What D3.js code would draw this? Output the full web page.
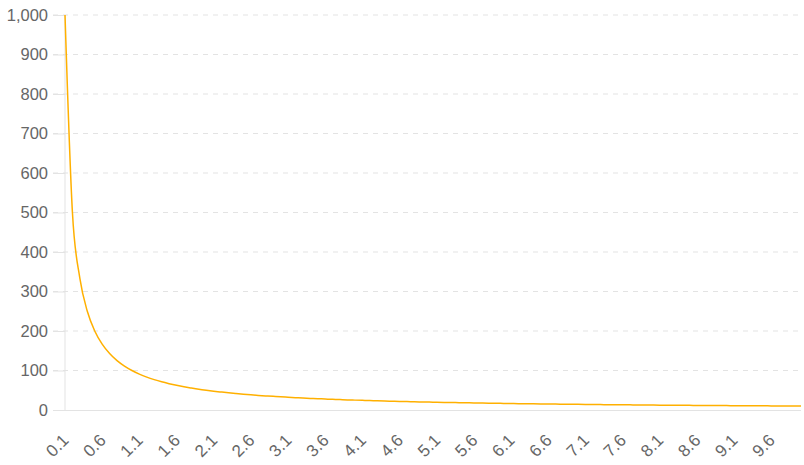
<!DOCTYPE html>
<html>
<head>
<meta charset="utf-8">
<script src="https://cdn.jsdelivr.net/npm/d3@7"></script>
<style>
  body { margin: 0; background: #fff; }
  svg text { font-family: "Liberation Sans", Arial, sans-serif; fill: #666; }
</style>
</head>
<body>
<div class="chart"></div>
<script>
const categories = [
  "0.1","0.2","0.3","0.4","0.5","0.6","0.7","0.8","0.9","1.0",
  "1.1","1.2","1.3","1.4","1.5","1.6","1.7","1.8","1.9","2.0",
  "2.1","2.2","2.3","2.4","2.5","2.6","2.7","2.8","2.9","3.0",
  "3.1","3.2","3.3","3.4","3.5","3.6","3.7","3.8","3.9","4.0",
  "4.1","4.2","4.3","4.4","4.5","4.6","4.7","4.8","4.9","5.0",
  "5.1","5.2","5.3","5.4","5.5","5.6","5.7","5.8","5.9","6.0",
  "6.1","6.2","6.3","6.4","6.5","6.6","6.7","6.8","6.9","7.0",
  "7.1","7.2","7.3","7.4","7.5","7.6","7.7","7.8","7.9","8.0",
  "8.1","8.2","8.3","8.4","8.5","8.6","8.7","8.8","8.9","9.0",
  "9.1","9.2","9.3","9.4","9.5","9.6","9.7","9.8","9.9","10.0"
];
const values = [
  1000, 500, 333.3, 250, 200, 166.7, 142.9, 125, 111.1, 100,
  90.9, 83.3, 76.9, 71.4, 66.7, 62.5, 58.8, 55.6, 52.6, 50,
  47.6, 45.5, 43.5, 41.7, 40, 38.5, 37, 35.7, 34.5, 33.3,
  32.3, 31.3, 30.3, 29.4, 28.6, 27.8, 27, 26.3, 25.6, 25,
  24.4, 23.8, 23.3, 22.7, 22.2, 21.7, 21.3, 20.8, 20.4, 20,
  19.6, 19.2, 18.9, 18.5, 18.2, 17.9, 17.5, 17.2, 16.9, 16.7,
  16.4, 16.1, 15.9, 15.6, 15.4, 15.2, 14.9, 14.7, 14.5, 14.3,
  14.1, 13.9, 13.7, 13.5, 13.3, 13.2, 13, 12.8, 12.7, 12.5,
  12.3, 12.2, 12, 11.9, 11.8, 11.6, 11.5, 11.4, 11.2, 11.1,
  11, 10.9, 10.8, 10.6, 10.5, 10.4, 10.3, 10.2, 10.1, 10
];
const yTicks = [0, 100, 200, 300, 400, 500, 600, 700, 800, 900, 1000];
const xTickLabels = categories.filter((d, i) => i % 5 === 0);

const width = 804, height = 465;
const margin = { top: 15, right: 3, bottom: 55, left: 65 };

const svg = d3.select(".chart")
  .append("svg")
  .attr("width", width)
  .attr("height", height);

const x = d3.scalePoint()
  .domain(categories)
  .range([margin.left, width - margin.right]);
const y = d3.scaleLinear()
  .domain([0, 1000])
  .range([height - margin.bottom, margin.top]);

// grid lines
svg.append("g")
  .selectAll("line")
  .data(yTicks.filter(d => d > 0))
  .enter()
  .append("line")
  .attr("x1", margin.left - 12)
  .attr("x2", width - margin.right)
  .attr("y1", d => y(d))
  .attr("y2", d => y(d))
  .style("stroke", "#e3e3e3")
  .style("stroke-dasharray", "5,5");

// y axis
const yAxis = svg.append("g")
  .attr("transform", `translate(${margin.left}, 0)`)
  .call(d3.axisLeft(y).tickValues(yTicks).tickFormat(d3.format(",")).tickSize(12).tickPadding(5));
yAxis.select(".domain").remove();
yAxis.selectAll(".tick line").style("stroke", "#e3e3e3");
yAxis.selectAll(".tick text").style("font-size", "16.5px");
svg.append("line")
  .attr("x1", margin.left).attr("x2", margin.left)
  .attr("y1", y(1000)).attr("y2", y(0))
  .style("stroke", "#e3e3e3");

// x axis
const xAxis = svg.append("g")
  .attr("transform", `translate(0, ${y(0)})`)
  .call(d3.axisBottom(x).tickValues(xTickLabels).tickSize(0));
xAxis.select(".domain")
  .attr("d", `M${margin.left},0.5H${width - margin.right}`)
  .style("stroke", "#e3e3e3");
xAxis.selectAll(".tick text")
  .style("font-size", "17px")
  .style("text-anchor", "end")
  .attr("dy", "0.35em")
  .attr("transform", "translate(0, 27) rotate(-45)")
  .attr("x", 0).attr("y", 0);

// line
const line = d3.line()
  .x((d, i) => x(categories[i]))
  .y(d => y(d))
  .curve(d3.curveMonotoneX);

svg.append("path")
  .datum(values)
  .attr("d", line)
  .style("fill", "none")
  .style("stroke", "#ffb000")
  .style("stroke-width", 1.5);
</script>
</body>
</html>
